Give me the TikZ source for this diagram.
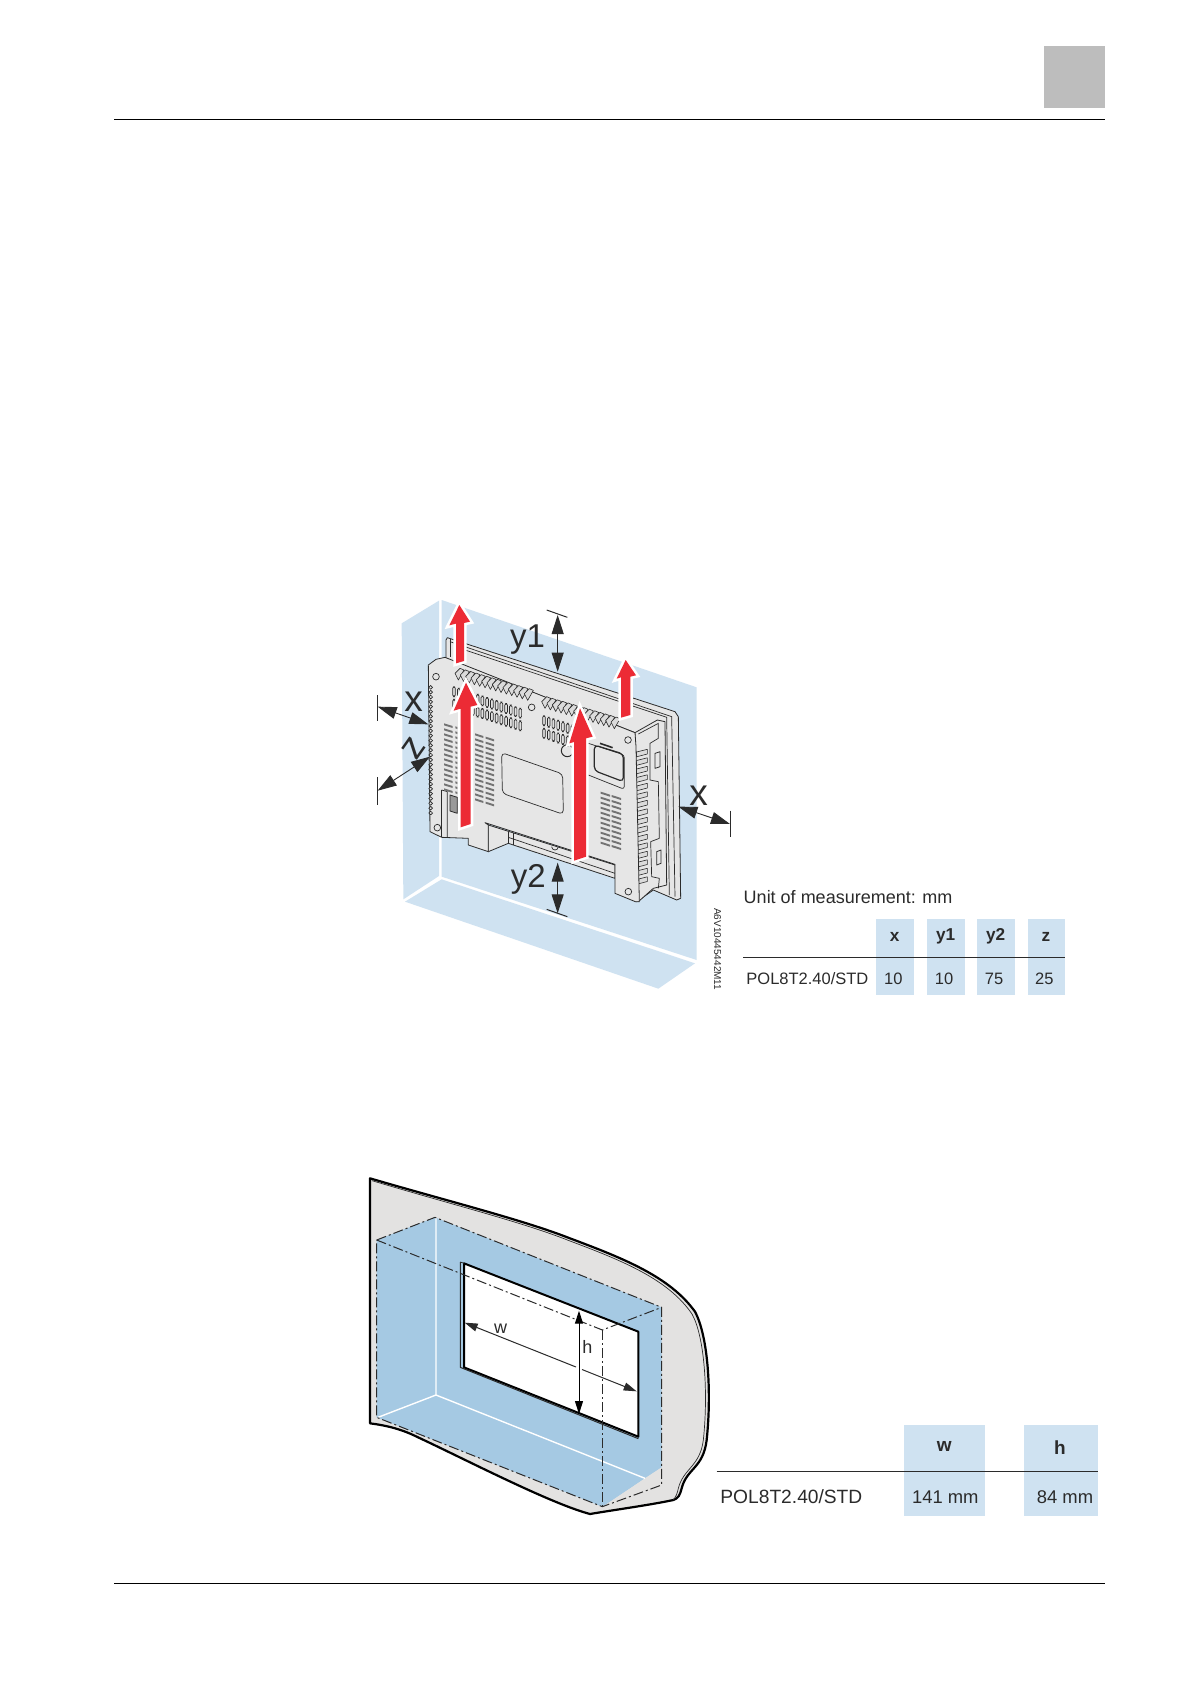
\documentclass[tikz,border=0pt]{standalone}
\usepackage{fontspec}
\setmainfont{Liberation Sans}
\usetikzlibrary{arrows.meta}
\definecolor{wallblue}{HTML}{CFE2F1}
\definecolor{cutblue}{HTML}{A5C9E3}
\definecolor{platebg}{HTML}{E6E6E6}
\definecolor{cutgrey}{HTML}{E3E2E1}
\definecolor{arrowred}{HTML}{EC2B35}
\definecolor{inkdark}{HTML}{2B2B2B}
\tikzset{
  px/.style={x=.5pt,y=-.5pt},
  wall/.style={fill=wallblue,draw=none},
  devfill/.style={fill=platebg,draw=inkdark,line width=.4pt,line join=round},
  devline/.style={draw=inkdark,line width=.35pt},
  hookfin/.style={fill=black!14,draw=inkdark,line width=.3pt,line join=round},
  slot/.style={fill=black!55},
  upred/.style={preaction={draw=white,line width=2.6pt,line join=miter},fill=arrowred},
  dim/.style={draw=inkdark,line width=.45pt,{Triangle[length=9.5pt,width=6pt]}-{Triangle[length=9.5pt,width=6pt]}},
  dimsmall/.style={draw=black,line width=.5pt,{Triangle[length=6.5pt,width=4pt]}-{Triangle[length=6.5pt,width=4pt]}},
  halfdimA/.style={draw=inkdark,line width=.5pt,{Triangle[length=6.5pt,width=4pt]}-},
  halfdimB/.style={draw=inkdark,line width=.5pt,-{Triangle[length=6.5pt,width=4pt]}},
  tick/.style={draw=inkdark,line width=.5pt},
  biglabel/.style={inner sep=0pt,text=inkdark,font=\fontsize{16.5}{16.5}\selectfont},
  xlabel/.style={inner sep=0pt,text=inkdark,font=\fontsize{18.5}{18.5}\selectfont},
  cell/.style={fill=wallblue,draw=none},
  tabtext/.style={inner sep=0pt,text=inkdark,font=\fontsize{8.25}{9}\selectfont},
  tabhead/.style={inner sep=0pt,text=inkdark,font=\fontsize{8.6}{9}\selectfont\bfseries},
  cutline/.style={draw=inkdark,line width=.5pt,dash pattern=on 5pt off 1.5pt on 1pt off 1.5pt},
  thickline/.style={draw=black,line width=1pt,line join=round}
}
\begin{document}
\begin{tikzpicture}[px]
\useasboundingbox (0,0) rectangle (1190,1684);
\fill[white] (0,0) rectangle (1190,1684);
% page furniture
\fill[fill=black!26] (1044,46) rectangle (1105,108.5);
\draw[black,line width=.45pt] (114,119.5) -- (1105,119.5);
\draw[black,line width=.45pt] (114,1583.5) -- (1105,1583.5);

% ---------- clearance figure ----------
\begin{scope}[shift={(360,580)},scale=1/3]
 \fill[wall] (245,60) -- (1010,322) -- (1010,1140) -- (245,890) -- cycle;
 \fill[wall] (125,130) -- (237,62) -- (237,888) -- (130,958) -- cycle;
 \fill[wall] (245,898) -- (1005,1150) -- (895,1226) -- (135,965) -- cycle;
 % bezel behind plate
 \path[devfill] (258,180) -- (262,173) -- (945,395) -- (955,410) -- (962,955) -- (950,960) -- (880,930) -- (830,965) -- (825,458) -- (258,235) -- cycle;
 \path[devline] (270,178) -- (270,230);
 \path[devline] (270,185) -- (935,410) -- (945,950);
 \path[devline] (285,200) -- (920,412) -- (928,945);
 % side face
 \path[devfill] (825,458) -- (892,420) -- (915,425) -- (920,915) -- (880,925) -- (835,965) -- (828,960) -- cycle;
 \path[devline] (835,462) -- (895,430) -- (895,475) -- (870,490) -- (870,600) -- (895,605) -- (898,775) -- (872,785) -- (875,890) -- (898,895) -- (895,925);
 \path[devfill] (885,520) -- (900,515) -- (900,560) -- (885,565) -- cycle;
 \path[devfill] (890,815) -- (903,810) -- (903,850) -- (890,855) -- cycle;
 % right fins
 \foreach \i in {0,...,15}{
   \path[hookfin] ({814},{520+\i*25.5}) -- ({862},{508+\i*25.5}) -- ({862},{522+\i*25.5}) -- ({816},{534+\i*25.5}) -- cycle;
   \path[devline] ({830},{516+\i*25.5}) -- ({830},{530+\i*25.5});
 }
 % lower rear body
 \path[devfill] (385,735) -- (765,855) -- (765,895) -- (445,790) -- (385,815) -- cycle;
 \path[devline] (445,755) -- (445,790);
 \path[devline] (460,760) -- (460,795);
 \path[devline] (445,772) -- (765,880);
 % back plate
 \path[devfill] (205,255) -- (228,238) -- (255,232) -- (825,458) -- (828,500) -- (838,965) -- (826,965) -- (765,940) -- (765,853) -- (375,728) -- (385,735) -- (385,815) -- (325,795) -- (325,775) -- (245,772) -- (210,755) -- cycle;
 \path[devline] (245,630) -- (245,772);
 \path[devline] (245,630) -- (262,635) -- (262,772);
 \path[devfill,fill=black!40] (270,645) -- (292,652) -- (292,700) -- (270,693) -- cycle;
 \path[devline] (595,800) arc (0:180:10);
 % left teeth
 \foreach \i in {0,...,26}{
   \path[devline,fill=platebg] (212,{322+\i*14.5}) circle (5.5);
 }
 % screw holes
 \foreach \x/\y in {228/290,515/382,804/480,232/743,805/935}{
   \path[devline,fill=platebg] (\x,\y) circle (10);
 }
 \path[devline,line width=.5pt,fill=platebg] (622,512) circle (18);
 % top fin rows
 \foreach \i in {0,...,13}{
   \path[hookfin] ({285+\i*16},{280+\i*4.7}) -- ({300+\i*16},{265+\i*4.7}) -- ({312+\i*16},{270+\i*4.7}) -- ({295+\i*16},{300+\i*4.7}) -- cycle;
 }
 \foreach \i in {0,...,13}{
   \path[hookfin] ({545+\i*16},{365+\i*4.7}) -- ({560+\i*16},{350+\i*4.7}) -- ({572+\i*16},{355+\i*4.7}) -- ({555+\i*16},{385+\i*4.7}) -- cycle;
 }
 % vertical slots row
 \foreach \i in {0,...,14}{
   \path[devline,fill=black!12,rounded corners=.8pt] ({278+\i*14.2},{320+\i*4.6}) rectangle ({286+\i*14.2},{350+\i*4.6});
   \path[devline,fill=black!12,rounded corners=.8pt] ({278+\i*14.2},{358+\i*4.6}) rectangle ({286+\i*14.2},{388+\i*4.6});
 }
 \foreach \i in {0,...,6}{
   \path[devline,fill=black!12,rounded corners=.8pt] ({548+\i*14.2},{407+\i*4.6}) rectangle ({556+\i*14.2},{437+\i*4.6});
   \path[devline,fill=black!12,rounded corners=.8pt] ({548+\i*14.2},{445+\i*4.6}) rectangle ({556+\i*14.2},{475+\i*4.6});
 }
 % horizontal slots
 \foreach \i in {0,...,13}{
   \fill[slot] ({252},{430+\i*15}) -- ({278},{438+\i*15}) -- ({278},{444+\i*15}) -- ({252},{436+\i*15}) -- cycle;
 }
 \foreach \i in {0,...,13}{
   \fill[slot] ({286},{439+\i*15}) -- ({292},{441+\i*15}) -- ({292},{447+\i*15}) -- ({286},{445+\i*15}) -- cycle;
 }
 \foreach \c in {0,1}{
  \foreach \i in {0,...,13}{
   \fill[slot] ({345+\c*32},{460+\c*10+\i*15}) -- ({370+\c*32},{468+\c*10+\i*15}) -- ({370+\c*32},{474+\c*10+\i*15}) -- ({345+\c*32},{466+\c*10+\i*15}) -- cycle;
  }
 }
 \foreach \c in {0,1}{
  \foreach \i in {0,...,10}{
   \fill[slot] ({722+\c*33},{635+\c*10+\i*15}) -- ({750+\c*33},{644+\c*10+\i*15}) -- ({750+\c*33},{650+\c*10+\i*15}) -- ({722+\c*33},{641+\c*10+\i*15}) -- cycle;
  }
 }
 % label recess
 \path[devline,rounded corners=2pt] (425,518) -- (608,582) -- (610,703) -- (427,640) -- cycle;
 % battery cover
 \path[devline,line width=.6pt,rounded corners=2pt] (703,495) -- (790,522) -- (790,605) -- (703,572) -- cycle;
 \path[devline,rounded corners=1.5pt] (685,490) -- (793,525) -- (793,628) -- (685,585);
 \path[devline,line width=.8pt] (720,490) -- (758,503);

 % red arrows
 \path[upred] (288,250) -- (288,131) -- (268,136) -- (298,75) -- (330,125) -- (312,129) -- (312,243) -- cycle;
 \path[upred] (783,413) -- (783,292) -- (770,296) -- (797,240) -- (828,286) -- (811,290) -- (811,405) -- cycle;
 \path[upred] (302,742) -- (302,386) -- (281,392) -- (318,308) -- (352,375) -- (332,380) -- (332,732) -- cycle;
 \path[upred] (642,842) -- (642,486) -- (628,490) -- (660,385) -- (698,470) -- (678,475) -- (678,830) -- cycle;

 % dimension arrows and labels
 \coordinate (y1a) at (593,105); \coordinate (y1b) at (593,275);
 \draw[dim] (y1a) -- (y1b);
 \draw[tick] (560,90) -- (622,112);
 \node[biglabel] (y1l) at (503,178) {y1};

 \coordinate (y2a) at (593,848); \coordinate (y2b) at (593,1000);
 \draw[dim] (y2a) -- (y2b);
 \draw[tick] (560,988) -- (622,1010);
 \node[biglabel] (y2l) at (505,898) {y2};

 \coordinate (x1a) at (53,380); \coordinate (x1b) at (205,433);
 \draw[dim] (x1a) -- (x1b);
 \draw[tick] (53,345) -- (53,423);
 \node[xlabel] (x1l) at (161,364) {x};

 \coordinate (za) at (53,632); \coordinate (zb) at (210,530);
 \draw[dim] (za) -- (zb);
 \draw[tick] (53,592) -- (53,674);
 \node[xlabel,rotate=55] (zl) at (160,505) {z};

 \coordinate (x2a) at (955,680); \coordinate (x2b) at (1110,732);
 \draw[dim] (x2a) -- (x2b);
 \draw[tick] (1110,692) -- (1110,772);
 \node[xlabel] (x2l) at (1016,646) {x};

 \node[inner sep=0pt,rotate=-90,text=inkdark,font=\fontsize{5}{5}\selectfont] (code) at (1073,1108) {A6V10445442M11};
\end{scope}

% ---------- clearance table ----------
\begin{scope}[shift={(700,860)},scale=1/3]
 \fill[cell] (528,178) rectangle (641,404);
 \fill[cell] (682,178) rectangle (795,404);
 \fill[cell] (831,178) rectangle (945,404);
 \fill[cell] (984,178) rectangle (1095,404);
 \draw[inkdark,line width=.45pt] (130,292) -- (1095,292);
 \node[tabtext,anchor=west,font=\fontsize{9}{10}\selectfont] (unit) at (130,112) {Unit of measurement: mm};
 \node[tabtext,anchor=west] (pol) at (138,356) {POL8T2.40/STD};
 \node[tabhead] (hx) at (584,230) {x};
 \node[tabhead] (hy1) at (737,230) {y1};
 \node[tabhead] (hy2) at (887,230) {y2};
 \node[tabhead] (hz) at (1038,230) {z};
 \node[tabtext] (vx) at (580,356) {10};
 \node[tabtext] (vy1) at (732,356) {10};
 \node[tabtext] (vy2) at (882,356) {75};
 \node[tabtext] (vz) at (1033,356) {25};
\end{scope}

% ---------- cut-out figure ----------
\begin{scope}[shift={(350,1160)},scale=1/3]
 \path[fill=cutgrey,draw=black,line width=1.1pt,line join=round] (60,55)
   .. controls (300,125) and (520,180) .. (660,235)
   .. controls (820,295) and (960,350) .. (1035,455)
   .. controls (1075,530) and (1085,700) .. (1070,840)
   .. controls (1060,925) and (1010,925) .. (995,985)
   .. controls (990,1005) and (985,1015) .. (970,1020)
   .. controls (900,1035) and (790,1050) .. (720,1062)
   .. controls (600,1030) and (350,900) .. (200,830)
   .. controls (150,805) and (100,795) .. (60,790) -- cycle;
 \draw[inkdark,line width=.35pt] (66,62) .. controls (300,132) and (520,187) .. (660,243)
   .. controls (820,303) and (955,358) .. (1026,462)
   .. controls (1064,530) and (1075,700) .. (1060,840)
   .. controls (1050,920) and (1000,925) .. (985,985)
   .. controls (982,1000) and (978,1010) .. (970,1020);
 \fill[cutblue] (255,172) -- (935,442) -- (935,922) -- (757,1040) -- (80,772) -- (80,240) -- cycle;
 \fill[cutgrey] (885,955) -- (935,922) -- (935,975) -- (760,1040) -- cycle;
 \draw[white,line width=.7pt] (258,172) -- (258,705) -- (885,955);
 \draw[white,line width=.7pt] (258,705) -- (84,772);
 % opening
 \path[fill=white] (342,310) -- (865,515) -- (865,830) -- (342,622) -- cycle;
 \draw[thickline] (342,310) -- (865,515) -- (865,830) -- (342,622) -- cycle;
 \draw[inkdark,line width=.4pt] (331,306) -- (342,310);
 \draw[inkdark,line width=.5pt] (331,306) -- (331,622) -- (865,836);
 \draw[cutline] (80,240) -- (255,172) -- (935,442) -- (935,975) -- (757,1040) -- (80,772) -- cycle;
 \draw[cutline] (80,240) -- (757,510) -- (935,442);
 \draw[cutline] (757,510) -- (757,1040);
 \coordinate (wa) at (344,488); \coordinate (wb) at (860,694);
 \coordinate (wg) at (678,621); \coordinate (wh) at (696,628.5);
 \coordinate (ha) at (687,452); \coordinate (hb) at (687,762);
 \draw[halfdimA] (wa) -- (wg);
 \draw[halfdimB] (wh) -- (wb);
 \draw[dimsmall] (ha) -- (hb);
 \node[inner sep=0pt,text=inkdark,font=\fontsize{9}{9}\selectfont] (wl) at (452,506) {w};
 \node[inner sep=0pt,text=inkdark,font=\fontsize{9}{9}\selectfont] (hl) at (712,560) {h};
\end{scope}

% ---------- cut-out table ----------
\begin{scope}[shift={(700,1400)},scale=1/3]
 \fill[cell] (612,75) rectangle (855,348);
 \fill[cell] (972,75) rectangle (1194,348);
 \draw[inkdark,line width=.45pt] (50,214) -- (1194,214);
 \node[tabtext,anchor=west,font=\fontsize{9.6}{10}\selectfont] (pol2) at (60,290) {POL8T2.40/STD};
 \node[tabhead,font=\fontsize{9.5}{10}\selectfont\bfseries] (hw) at (733,140) {w};
 \node[tabhead,font=\fontsize{9.5}{10}\selectfont\bfseries] (hh) at (1080,142) {h};
 \node[tabtext,font=\fontsize{9.2}{10}\selectfont] (vw) at (736,290) {141 mm};
 \node[tabtext,font=\fontsize{9.2}{10}\selectfont] (vh) at (1095,290) {84 mm};
\end{scope}
\end{tikzpicture}
\end{document}
